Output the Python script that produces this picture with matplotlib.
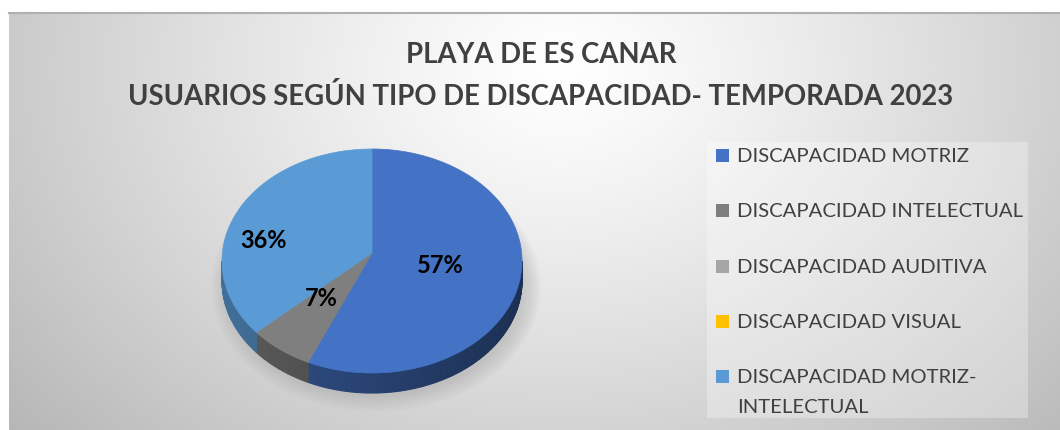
import numpy as np
import matplotlib.pyplot as plt
from matplotlib.patches import Polygon, Rectangle, Ellipse

# Data
categories = ['DISCAPACIDAD MOTRIZ', 'DISCAPACIDAD INTELECTUAL', 'DISCAPACIDAD AUDITIVA',
              'DISCAPACIDAD VISUAL', 'DISCAPACIDAD MOTRIZ-\nINTELECTUAL']
values = [57, 7, 0, 0, 36]
colors = ['#4472C4', '#7F7F7F', '#A5A5A5', '#FFC000', '#5B9BD5']
title = 'PLAYA DE ES CANAR\nUSUARIOS SEGÚN TIPO DE DISCAPACIDAD- TEMPORADA 2023'

# layout (pixels)
W, H = 1060, 431
cx, cy = 372, 262        # ellipse centre of top face
vx, vy = 372, 254        # apex of the slices (perspective)
rx, ry = 150, 112
depth = 20
lab_frac = [0.47, 0.55, 0, 0, 0.80]
lab_dy = [0, -4, 0, 0, 25]

plt.rcParams['font.family'] = ['Lato', 'DejaVu Sans']

fig = plt.figure(figsize=(W / 100, H / 100), dpi=100)
ax = fig.add_axes([0, 0, 1, 1])
ax.set_xlim(0, W)
ax.set_ylim(H, 0)
ax.axis('off')

# background: radial grey gradient
yy, xx = np.mgrid[13:H, 9:W]
r = np.sqrt(((xx - 560) / 560.0) ** 2 + ((yy - 70) / 430.0) ** 2)
g = np.clip(1.0 - 0.21 * r ** 1.2, 0, 1)
bg = np.dstack([g, g, g])
ax.imshow(bg, extent=[9, W, H, 13], aspect='auto', zorder=0)
ax.plot([9, W], [13.5, 13.5], color='#b0b0b0', lw=1.5, zorder=1)

# soft shadow under pie
for k in range(12):
    ax.add_patch(Ellipse((cx + 4, cy + 26), 2 * rx + 30 - 3 * k, 2 * ry + 26 - 3 * k,
                         color='#808080', alpha=0.025, lw=0, zorder=2))


def ell(t, dz=0):
    return cx + rx * np.sin(t), cy - ry * np.cos(t) + dz


def shade(c, f):
    c = np.array(plt.matplotlib.colors.to_rgb(c))
    return tuple(np.clip(c * f, 0, 1))


total = sum(values)
start = 0.0
bounds = []
for v in values:
    a0 = start
    a1 = start + v / total * 2 * np.pi
    bounds.append((a0, a1))
    start = a1

# side walls (front half: t in [pi/2, 3pi/2])
for (a0, a1), c in zip(bounds, colors):
    lo, hi = max(a0, np.pi / 2), min(a1, 3 * np.pi / 2)
    if hi <= lo:
        continue
    ts = np.linspace(lo, hi, max(int((hi - lo) / 0.02), 2))
    for t0, t1 in zip(ts[:-1], ts[1:]):
        x0, y0 = ell(t0)
        x1, y1 = ell(t1)
        f = 0.57 - 0.15 * np.sin((t0 + t1) / 2)
        sc = shade(c, f)
        ax.add_patch(Polygon([(x0, y0), (x1, y1), (x1, y1 + depth), (x0, y0 + depth)],
                             closed=True, facecolor=sc, edgecolor=sc, lw=0.8, zorder=3))

# top faces
for (a0, a1), c in zip(bounds, colors):
    if a1 <= a0:
        continue
    ts = np.linspace(a0, a1, 200)
    pts = [(vx, vy)] + [ell(t) for t in ts]
    ax.add_patch(Polygon(pts, closed=True, facecolor=c, edgecolor=c, lw=0.5, zorder=4))

# labels
for (a0, a1), v, f, dy in zip(bounds, values, lab_frac, lab_dy):
    if v == 0:
        continue
    t = (a0 + a1) / 2
    x = vx + f * rx * np.sin(t)
    y = vy - f * ry * np.cos(t) + dy
    ax.text(x, y, f'{round(v / total * 100)}%', ha='center', va='center',
            fontsize=17, fontweight='bold', color='black', zorder=5)

# title
ax.text(541, 76, title, ha='center', va='center', fontsize=19.8, fontweight='bold',
        color='#404040', linespacing=1.65, zorder=5)

# legend
ax.add_patch(Rectangle((707, 143), 321, 276, facecolor='white', alpha=0.3, lw=0, zorder=2))
ys = [156, 211, 267, 322, 377]
for name, c, y in zip(categories, colors, ys):
    ax.add_patch(Rectangle((716, y - 6.5), 13, 13, facecolor=c, lw=0, zorder=5))
    ax.text(737, y - 8, name, ha='left', va='top', fontsize=14.6, color='#404040',
            linespacing=1.93, zorder=5)

fig.savefig('out.png', dpi=100)
